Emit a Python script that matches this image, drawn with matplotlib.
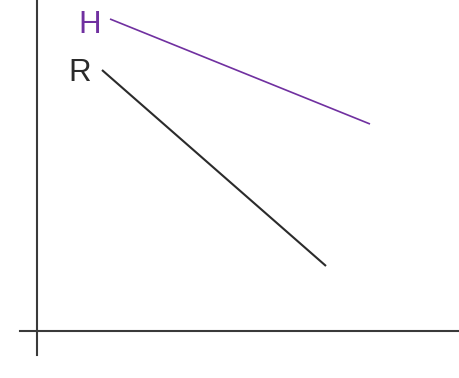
import matplotlib.pyplot as plt

plt.rcParams['font.family'] = ['Liberation Sans', 'DejaVu Sans']

labels = ['H', 'R']
colors = ['#7030a0', '#2b2b2b']
line_x = [[7.3, 33.3], [6.5, 28.9]]
line_y = [[31.2, 20.7], [26.1, 6.5]]
label_x = [5.3, 4.25]
label_y = [30.6, 25.8]
widths = [1.2, 1.5]

fig = plt.figure(figsize=(4.59, 3.78), dpi=100)
ax = fig.add_axes([0, 0, 1, 1])
ax.set_xlim(-3.7, 42.2)
ax.set_ylim(-4.7, 33.1)

for lab, c, xs, ys, tx, ty, w in zip(labels, colors, line_x, line_y, label_x, label_y, widths):
    ax.plot(xs, ys, color=c, lw=w, solid_capstyle='butt')
    ax.text(tx, ty, lab, color=c, fontsize=22.5, ha='center', va='center')

for side in ['top', 'right']:
    ax.spines[side].set_visible(False)
ax.spines['left'].set_position(('data', 0))
ax.spines['bottom'].set_position(('data', 0))
ax.spines['left'].set_bounds(-2.4, 33.1)
ax.spines['bottom'].set_bounds(-1.7, 42.2)
for side in ['left', 'bottom']:
    ax.spines[side].set_color('#3a3a3a')
    ax.spines[side].set_linewidth(1.5)
ax.set_xticks([])
ax.set_yticks([])

fig.savefig('out.png', dpi=100)
